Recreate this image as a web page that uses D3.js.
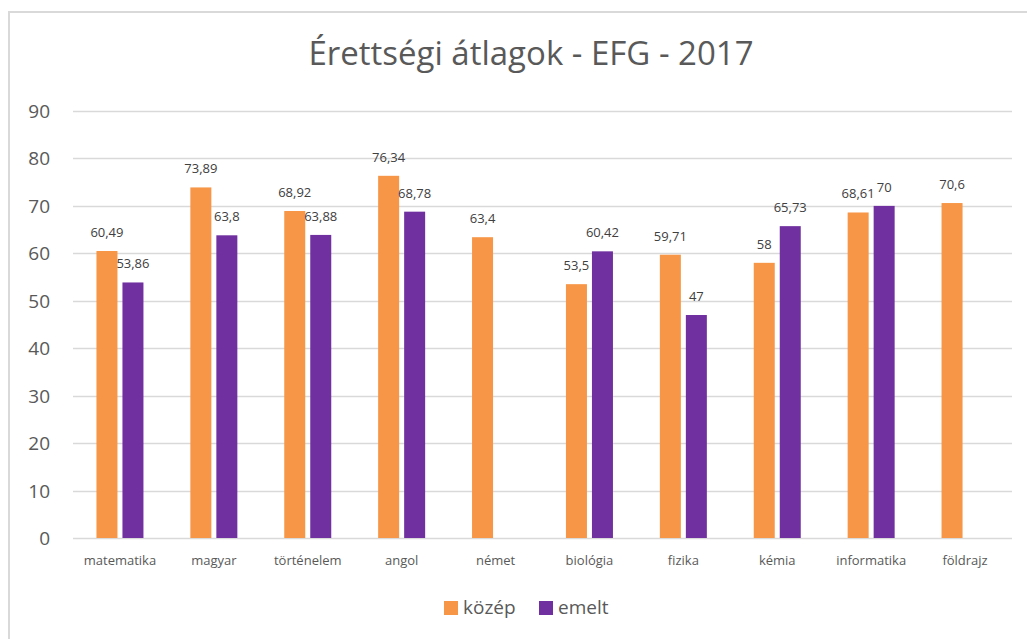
<!DOCTYPE html>
<html>
<head>
<meta charset="utf-8">
<script src="https://cdn.jsdelivr.net/npm/d3@7"></script>
<style>
  body { margin: 0; background: #fff; }
  text { font-family: "Open Sans", "Noto Sans", sans-serif; fill: #595959; }
</style>
</head>
<body>
<svg id="chart" width="1027" height="639"></svg>
<script>
var subjects = ["matematika", "magyar", "történelem", "angol", "német", "biológia", "fizika", "kémia", "informatika", "földrajz"];
var kozep = [60.49, 73.89, 68.92, 76.34, 63.4, 53.5, 59.71, 58, 68.61, 70.6];
var emelt = [53.86, 63.8, 63.88, 68.78, null, 60.42, 47, 65.73, 70, null];
var yTicks = [0, 10, 20, 30, 40, 50, 60, 70, 80, 90];
var seriesNames = ["közép", "emelt"];
var colors = ["#F79646", "#7030A0"];

var svg = d3.select("#chart");

// chart frame (only top and left edges are visible in the shot)
svg.append("path")
  .attr("d", "M9,639 V12 H1027")
  .attr("fill", "none")
  .attr("stroke", "#d9d9d9")
  .attr("stroke-width", 2);

svg.append("text")
  .attr("x", 531).attr("y", 65)
  .attr("text-anchor", "middle")
  .style("font-size", "33px")
  .text("Érettségi átlagok - EFG - 2017");

var x = d3.scaleBand().domain(subjects).range([73, 1012]);
var y = d3.scaleLinear().domain([0, 90]).range([538, 111]);

// gridlines + y labels
var grid = svg.append("g");
grid.selectAll("line").data(yTicks).enter().append("line")
  .attr("x1", 73).attr("x2", 1012)
  .attr("y1", function(d) { return Math.round(y(d)) + 0.5; })
  .attr("y2", function(d) { return Math.round(y(d)) + 0.5; })
  .attr("stroke", "#d9d9d9")
  .attr("stroke-width", 1.3);
grid.selectAll("text").data(yTicks).enter().append("text")
  .attr("x", 50)
  .attr("y", function(d) { return y(d) + 7; })
  .attr("text-anchor", "end")
  .style("font-size", "19px")
  .text(function(d) { return d; });

// x labels
svg.append("g").selectAll("text").data(subjects).enter().append("text")
  .attr("x", function(d) { return x(d) + x.bandwidth() / 2; })
  .attr("y", 565)
  .attr("text-anchor", "middle")
  .style("font-size", "13px")
  .text(function(d) { return d; });

var barW = 21, gap = 5;
var series = [kozep, emelt];
var fmt = function(v) { return String(v).replace(".", ","); };

series.forEach(function(vals, si) {
  var pts = subjects.map(function(s, i) { return { s: s, v: vals[i] }; })
    .filter(function(d) { return d.v != null; });
  var off = si === 0 ? -(barW + gap / 2) : gap / 2;
  var g = svg.append("g");
  g.selectAll("rect").data(pts).enter().append("rect")
    .attr("x", function(d) { return x(d.s) + x.bandwidth() / 2 + off; })
    .attr("y", function(d) { return y(d.v); })
    .attr("width", barW)
    .attr("height", function(d) { return y(0) - y(d.v); })
    .attr("fill", colors[si]);
  g.selectAll("text").data(pts).enter().append("text")
    .attr("x", function(d) { return x(d.s) + x.bandwidth() / 2 + off + barW / 2; })
    .attr("y", function(d) { return y(d.v) - 14; })
    .attr("text-anchor", "middle")
    .style("font-size", "13px")
    .style("fill", "#404040")
    .text(function(d) { return fmt(d.v); });
});

// legend
var legend = svg.append("g");
var legX = [444, 539];
seriesNames.forEach(function(n, i) {
  legend.append("rect")
    .attr("x", legX[i]).attr("y", 601)
    .attr("width", 14).attr("height", 14)
    .attr("fill", colors[i]);
  legend.append("text")
    .attr("x", legX[i] + 19).attr("y", 614)
    .style("font-size", "19px")
    .text(n);
});
</script>
</body>
</html>
